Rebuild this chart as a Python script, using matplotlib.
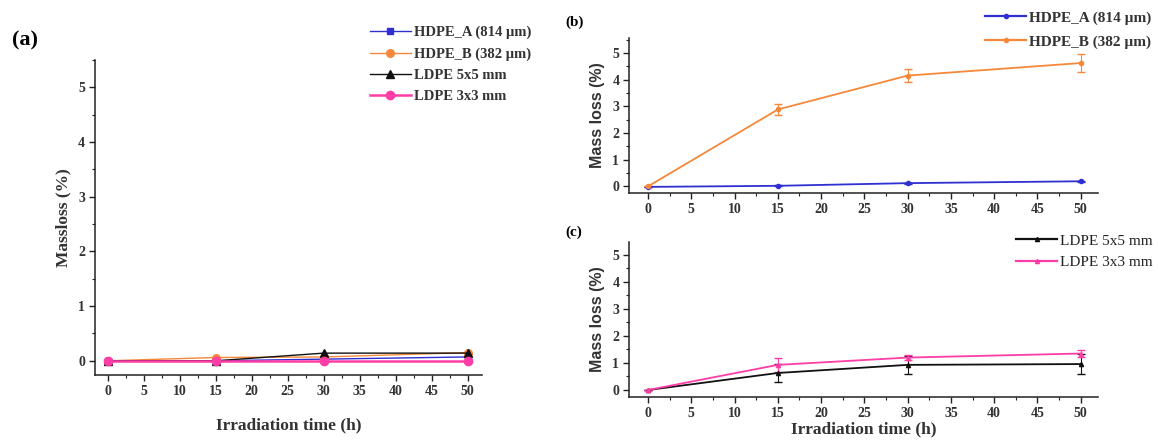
import matplotlib
matplotlib.use("Agg")
import matplotlib.pyplot as plt
from matplotlib.ticker import MultipleLocator
from matplotlib.lines import Line2D

# ---------------- data ----------------
time_h = [0, 15, 30, 50]

# panel (a)
a_hdpe_a = [0.00, 0.00, 0.03, 0.07]
a_hdpe_b = [0.00, 0.06, 0.07, 0.15]
a_ldpe55 = [0.00, 0.00, 0.14, 0.14]
a_ldpe33 = [-0.01, -0.01, -0.01, -0.01]

# panel (b)
b_hdpe_a = [-0.02, 0.02, 0.12, 0.19]
b_hdpe_a_err = [0.0, 0.02, 0.02, 0.02]
b_hdpe_b = [0.00, 2.88, 4.15, 4.62]
b_hdpe_b_err = [0.0, 0.22, 0.24, 0.34]

# panel (c)
c_ldpe55 = [0.00, 0.63, 0.93, 0.96]
c_ldpe55_err = [0.0, 0.33, 0.34, 0.37]
c_ldpe33 = [0.00, 0.93, 1.20, 1.35]
c_ldpe33_err = [0.0, 0.25, 0.08, 0.12]

labels_hdpe = ["HDPE_A (814 µm)", "HDPE_B (382 µm)"]
labels_ldpe = ["LDPE 5x5 mm", "LDPE 3x3 mm"]
xticks = [0, 5, 10, 15, 20, 25, 30, 35, 40, 45, 50]
yticks = [0, 1, 2, 3, 4, 5]

BLUE = "#2f2fd2"
ORANGE = "#f5883a"
BLACK = "#111111"
PINK = "#ff3da6"

SERIF = ["Liberation Serif", "DejaVu Serif"]
SANS = ["Liberation Sans", "DejaVu Sans"]

fig = plt.figure(figsize=(11.58, 4.43), dpi=100)

def style_axes(ax, xlim, ylim):
    ax.set_xlim(*xlim)
    ax.set_ylim(*ylim)
    ax.spines["top"].set_visible(False)
    ax.spines["right"].set_visible(False)
    for s in ("left", "bottom"):
        ax.spines[s].set_linewidth(1.1)
        ax.spines[s].set_color("#222222")
    ax.set_xticks(xticks)
    ax.set_yticks(yticks)
    ax.xaxis.set_minor_locator(MultipleLocator(2.5))
    ax.yaxis.set_minor_locator(MultipleLocator(0.5))
    ax.tick_params(which="major", direction="out", length=4, width=1, color="#222222", pad=3)
    ax.tick_params(which="minor", direction="out", length=2.5, width=0.8, color="#222222")
    for lab in ax.get_xticklabels() + ax.get_yticklabels():
        lab.set_fontfamily(SERIF)
        lab.set_fontweight("bold")
        lab.set_fontsize(10)
        lab.set_color("#333333")

# ---------------- panel (a) ----------------
axa = fig.add_axes([0.0820, 0.1535, 0.3342, 0.711])
axa.plot(time_h, a_hdpe_a, color=BLUE, lw=1.0, marker="s", ms=5, label=labels_hdpe[0])
axa.plot(time_h, a_hdpe_b, color=ORANGE, lw=1.0, marker="o", ms=5.5, label=labels_hdpe[1])
axa.plot(time_h, a_ldpe55, color=BLACK, lw=1.0, marker="^", ms=6, label=labels_ldpe[0])
axa.plot(time_h, a_ldpe33, color=PINK, lw=1.8, marker="o", ms=6, label=labels_ldpe[1])
style_axes(axa, (-1.8, 52), (-0.26, 5.5))
axa.set_ylabel("Massloss (%)", family=SERIF, weight="bold", fontsize=12.5, color="#333333", labelpad=5)
axa.set_xlabel("Irradiation time (h)", family=SERIF, weight="bold", fontsize=12.5, color="#333333", labelpad=14)
axa.legend(loc="upper left", bbox_to_anchor=(370 / 1158, 1 - 26 / 443), bbox_transform=fig.transFigure,
           frameon=False, prop={"family": SERIF, "weight": "bold", "size": 10.5},
           handlelength=2.8, handletextpad=0.2, labelspacing=0.55, borderpad=0, borderaxespad=0,
           labelcolor="#333333")
fig.text(12 / 1158, 1 - 40 / 443, "(a)", family=SERIF, weight="bold", fontsize=16, va="center", ha="left")

# ---------------- panel (b) ----------------
axb = fig.add_axes([0.5432, 0.5643, 0.405, 0.35])
axb.errorbar(time_h, b_hdpe_a, yerr=b_hdpe_a_err, color=BLUE, lw=1.3, marker="o", ms=3,
             capsize=3, elinewidth=0.8)
axb.errorbar(time_h, b_hdpe_b, yerr=b_hdpe_b_err, color=ORANGE, lw=1.3, marker="o", ms=3,
             capsize=3, elinewidth=0.8)
style_axes(axb, (-2.2, 52), (-0.25, 5.56))
axb.set_ylabel("Mass loss (%)", family=SANS, weight="bold", fontsize=11.5, color="#333333", labelpad=5)
hb = [Line2D([], [], color=BLUE, lw=1.6, marker="o", ms=3),
      Line2D([], [], color=ORANGE, lw=1.6, marker="o", ms=3)]
axb.legend(hb, labels_hdpe, loc="upper left", bbox_to_anchor=(985 / 1158, 1 - 11 / 443), bbox_transform=fig.transFigure,
           frameon=False, prop={"family": SERIF, "weight": "bold", "size": 11},
           handlelength=2.7, handletextpad=0.2, labelspacing=0.65, borderpad=0, borderaxespad=0,
           labelcolor="#333333")
fig.text(565 / 1158, 1 - 22 / 443, "(b)", family=SERIF, weight="bold", fontsize=11, va="center", ha="left")

# ---------------- panel (c) ----------------
axc = fig.add_axes([0.5432, 0.1038, 0.405, 0.35])
axc.errorbar(time_h, c_ldpe55, yerr=c_ldpe55_err, color=BLACK, lw=1.3, marker="^", ms=3,
             capsize=3, elinewidth=0.8)
axc.errorbar(time_h, c_ldpe33, yerr=c_ldpe33_err, color=PINK, lw=1.3, marker="^", ms=3,
             capsize=3, elinewidth=0.8)
style_axes(axc, (-2.2, 52), (-0.26, 5.48))
axc.set_ylabel("Mass loss (%)", family=SANS, weight="bold", fontsize=11.5, color="#333333", labelpad=5)
axc.set_xlabel("Irradiation time (h)", family=SERIF, weight="bold", fontsize=12.5, color="#333333", labelpad=1)
hc = [Line2D([], [], color=BLACK, lw=1.6, marker="^", ms=3),
      Line2D([], [], color=PINK, lw=1.6, marker="^", ms=3)]
axc.legend(hc, labels_ldpe, loc="upper left", bbox_to_anchor=(1016 / 1158, 1 - 234 / 443), bbox_transform=fig.transFigure,
           frameon=False, prop={"family": SERIF, "size": 11},
           handlelength=2.7, handletextpad=0.2, labelspacing=0.5, borderpad=0, borderaxespad=0,
           labelcolor="#222222")
fig.text(565 / 1158, 1 - 232 / 443, "(c)", family=SERIF, weight="bold", fontsize=11, va="center", ha="left")

fig.savefig("out.png", dpi=100)
